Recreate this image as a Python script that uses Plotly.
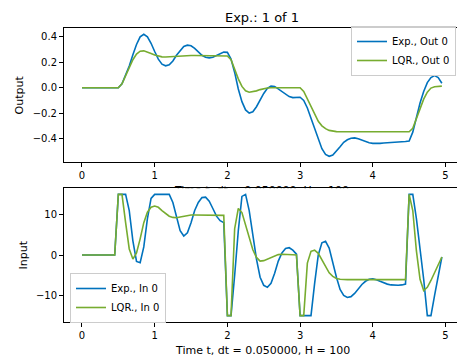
import plotly.graph_objects as go

dt = 0.05
H = 100
t = [round(i * dt, 2) for i in range(H)]

exp_out = [
    0, 0, 0, 0, 0, 0, 0, 0, 0, 0,                      # 0.00-0.45
    0.0, 0.03, 0.095, 0.17, 0.26, 0.34, 0.40, 0.42, 0.40, 0.35,   # 0.50-0.95
    0.285, 0.225, 0.185, 0.172, 0.18, 0.21, 0.255, 0.295, 0.325, 0.335,  # 1.00-1.45
    0.33, 0.31, 0.28, 0.255, 0.24, 0.235, 0.24, 0.255, 0.27, 0.28,  # 1.50-1.95
    0.278, 0.225, 0.12, -0.01, -0.11, -0.175, -0.2, -0.19, -0.15, -0.095,  # 2.00-2.45
    -0.045, -0.005, 0.013, 0.01, -0.01, -0.035, -0.055, -0.07, -0.078, -0.075,  # 2.50-2.95
    -0.075, -0.1, -0.16, -0.24, -0.32, -0.41, -0.48, -0.525, -0.54, -0.53,  # 3.00-3.45
    -0.5, -0.465, -0.43, -0.41, -0.398, -0.395, -0.402, -0.413, -0.425, -0.433,  # 3.50-3.95
    -0.438, -0.44, -0.438, -0.435, -0.432, -0.43, -0.428, -0.426, -0.425, -0.424,  # 4.00-4.45
    -0.42, -0.35, -0.23, -0.12, -0.03, 0.04, 0.08, 0.095, 0.08, 0.035,  # 4.50-4.95
]

lqr_out = [
    0, 0, 0, 0, 0, 0, 0, 0, 0, 0,
    0.0, 0.03, 0.09, 0.16, 0.22, 0.265, 0.287, 0.29, 0.283, 0.27,
    0.257, 0.248, 0.243, 0.242, 0.244, 0.247, 0.25, 0.252, 0.253, 0.253,
    0.253, 0.253, 0.253, 0.253, 0.253, 0.253, 0.253, 0.253, 0.253, 0.253,
    0.25, 0.22, 0.14, 0.07, 0.01, -0.025, -0.036, -0.033, -0.025, -0.015,
    -0.007, -0.002, 0, 0, 0, 0, 0, 0, 0, 0,
    0, -0.03, -0.09, -0.155, -0.215, -0.265, -0.3, -0.322, -0.336, -0.343,
    -0.346, -0.347, -0.347, -0.347, -0.347, -0.347, -0.347, -0.347, -0.347, -0.347,
    -0.347, -0.347, -0.347, -0.347, -0.347, -0.347, -0.347, -0.347, -0.347, -0.347,
    -0.347, -0.32, -0.245, -0.16, -0.09, -0.035, -0.003, 0.008, 0.012, 0.012,
]

exp_in = [
    0, 0, 0, 0, 0, 0, 0, 0, 0, 0,
    15, 15, 15, 11, 3.5, -1.6, -1.9, 2.0, 9, 14,
    15, 15, 15, 15, 15, 13, 9.5, 6, 4.7, 5.5,
    8, 11, 13, 14.2, 14.3, 13.3, 11.5, 9.6, 8.5, 8.0,
    -15, -15, -5, 6, 14.5, 15, 11, 5, -1, -5.5,
    -7.5, -8, -7, -4.5, -1.5, 0.5, 1.6, 1.8, 1.2, 0.2,
    -15, -15, -15, -15, -7, 0, 3, 3.4, 1.7, -2,
    -5.5, -8.5, -10, -10.5, -10.3, -9.5, -8.3, -7.3, -6.5, -6.0,
    -5.9, -6.1, -6.5, -6.9, -7.2, -7.4, -7.5, -7.5, -7.4, -7.2,
    15, 15, 9, 2, -6, -15, -15, -10, -5, -0.5,
]

lqr_in = [
    0, 0, 0, 0, 0, 0, 0, 0, 0, 0,
    15, 15, 8, 1.5, -1.0, 0.5, 4, 8, 10.6, 11.8,
    12.1, 11.8, 11.0, 10.2, 9.6, 9.3, 9.2, 9.4, 9.6, 9.8,
    9.9, 9.9, 9.9, 9.8, 9.8, 9.8, 9.8, 9.8, 9.8, 9.8,
    -15, -15, 6.5, 11.5, 10.5, 7.5, 4, 1.3, -0.6, -1.5,
    -1.4, -1.0, -0.5, -0.1, 0.1, 0.2, 0.2, 0.1, 0.05, 0,
    -15, -15, -2, 0.9, 1.2, 0.4, -1.3, -3, -4.4, -5.3,
    -5.8, -6.0, -6.1, -6.1, -6.1, -6.1, -6.1, -6.1, -6.1, -6.1,
    -6.1, -6.1, -6.1, -6.1, -6.1, -6.1, -6.1, -6.1, -6.1, -6.1,
    15, 11, 1, -6, -8.8, -8.0, -6.3, -4.3, -2.4, -0.5,
]

x_ticks = [0, 1, 2, 3, 4, 5]
out_ticks = [-0.4, -0.2, 0.0, 0.2, 0.4]
in_ticks = [-10, 0, 10]

title_text = "Exp.: 1 of 1"
xlabel = "Time t, dt = %f, H = %d" % (dt, H)

BLUE = "#0072BD"
GREEN = "#77AC30"
FONT = "DejaVu Sans"

fig = go.Figure()
fig.add_trace(go.Scatter(x=t, y=exp_out, mode="lines", name="Exp., Out 0",
                         line=dict(color=BLUE, width=1.6), xaxis="x", yaxis="y", legend="legend"))
fig.add_trace(go.Scatter(x=t, y=lqr_out, mode="lines", name="LQR., Out 0",
                         line=dict(color=GREEN, width=1.6), xaxis="x", yaxis="y", legend="legend"))
fig.add_trace(go.Scatter(x=t, y=exp_in, mode="lines", name="Exp., In 0",
                         line=dict(color=BLUE, width=1.6), xaxis="x2", yaxis="y2", legend="legend2"))
fig.add_trace(go.Scatter(x=t, y=lqr_in, mode="lines", name="LQR., In 0",
                         line=dict(color=GREEN, width=1.6), xaxis="x2", yaxis="y2", legend="legend2"))
# top subplot's x label, partly hidden behind the lower axes (as in the original)
fig.add_trace(go.Scatter(x=[262], y=[-2.6], mode="text", text=[xlabel], textposition="middle center",
                         textfont=dict(family=FONT, size=11, color="black"), cliponaxis=True,
                         showlegend=False, hoverinfo="skip", xaxis="x3", yaxis="y3"))

W, Hpx = 457, 360
xdom = [64 / W, 1.0]
xrange_ = [-0.2475, -0.2475 + (W - 64) / 72.7]

common_x = dict(domain=xdom, range=xrange_, tickvals=x_ticks, ticks="outside", ticklen=4,
                tickcolor="black", showline=True, linecolor="black", linewidth=1, mirror=True,
                showgrid=False, zeroline=False, automargin=False,
                tickfont=dict(family=FONT, size=10, color="black"))
common_y = dict(ticks="outside", ticklen=4, tickcolor="black", showline=True, linecolor="black",
                linewidth=1, mirror=False, showgrid=False, zeroline=False, automargin=False,
                tickfont=dict(family=FONT, size=10, color="black"))

annotations = [
    dict(text="Output", x=19.5 / W, y=1 - 95 / Hpx, xref="paper", yref="paper", showarrow=False,
         textangle=-90, xanchor="center", yanchor="middle", font=dict(family=FONT, size=11, color="black")),
    dict(text="Input", x=22.5 / W, y=1 - 255 / Hpx, xref="paper", yref="paper", showarrow=False,
         textangle=-90, xanchor="center", yanchor="middle", font=dict(family=FONT, size=11, color="black")),
    dict(text=xlabel, x=262 / W, y=1 - 350 / Hpx, xref="paper", yref="paper", showarrow=False,
         xanchor="center", yanchor="middle", font=dict(family=FONT, size=11, color="black")),
]

fig.update_layout(
    width=W, height=Hpx,
    margin=dict(l=0, r=0, t=0, b=0, autoexpand=False),
    paper_bgcolor="white", plot_bgcolor="white",
    font=dict(family=FONT, size=10, color="black"),
    title=dict(text=title_text, x=262 / W, xanchor="center", y=1 - 17 / Hpx, yanchor="middle",
               yref="container", font=dict(family=FONT, size=13, color="black")),
    xaxis=dict(anchor="y", **common_x),
    yaxis=dict(anchor="x", domain=[1 - 162 / Hpx, 1 - 28 / Hpx], range=[-0.585, 0.47],
               tickvals=out_ticks, tickformat=".1f", **common_y),
    xaxis2=dict(anchor="y2", **common_x),
    yaxis2=dict(anchor="x2", domain=[1 - 321.7 / Hpx, 1 - 188.3 / Hpx], range=[-16.5, 16.5],
                tickvals=in_ticks, **common_y),
    xaxis3=dict(anchor="y3", domain=[0, 1], range=[0, W], visible=False, automargin=False),
    yaxis3=dict(anchor="x3", domain=[1 - 188.3 / Hpx, 1 - 166 / Hpx], range=[0, 22.3],
                visible=False, automargin=False),
    annotations=annotations,
    legend=dict(x=351 / W, y=1 - 51 / Hpx, xanchor="left", yanchor="middle",
                bgcolor="rgba(255,255,255,0.8)", bordercolor="#cccccc", borderwidth=1,
                font=dict(family=FONT, size=10, color="black")),
    legend2=dict(x=70 / W, y=1 - 298 / Hpx, xanchor="left", yanchor="middle",
                 bgcolor="rgba(255,255,255,0.8)", bordercolor="#cccccc", borderwidth=1,
                 font=dict(family=FONT, size=10, color="black")),
    hovermode=False,
)

fig.write_html(
    "out.html",
    config={"displayModeBar": False},
    post_script="document.body.style.margin='0';document.body.style.padding='0';"
                "document.body.style.overflow='hidden';",
)
